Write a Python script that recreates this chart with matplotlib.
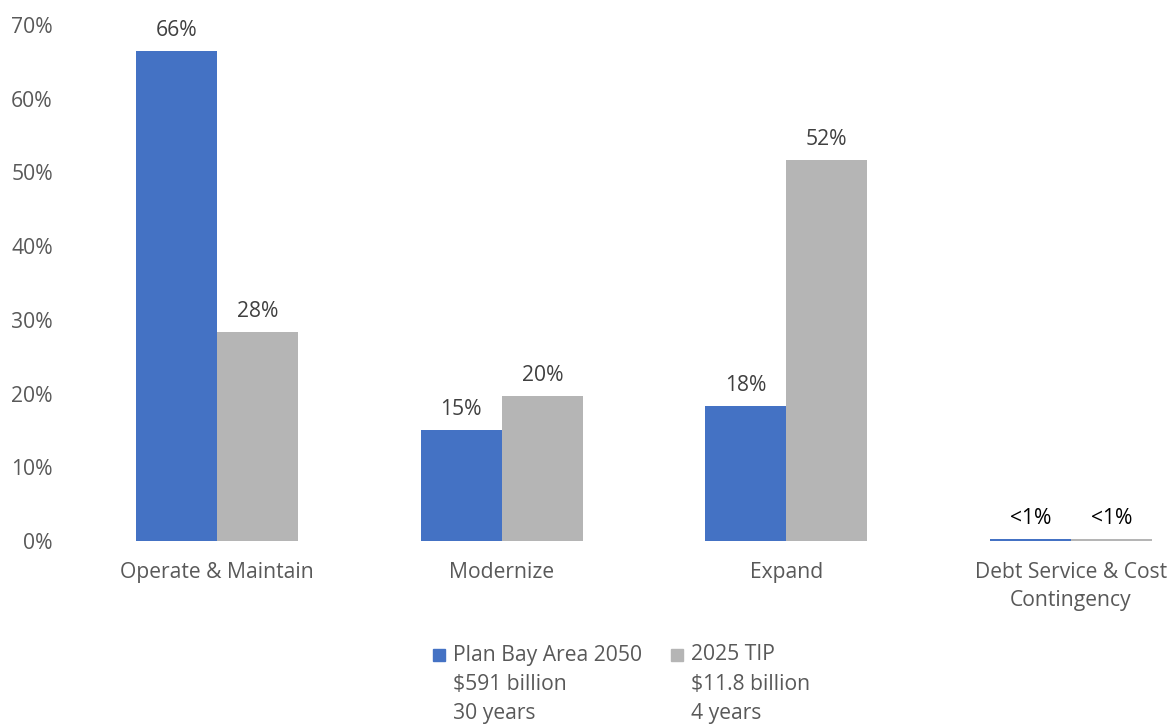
import numpy as np
import matplotlib.pyplot as plt
from matplotlib.patches import Rectangle

# ================== DATA ==================

categories = ["Operate & Maintain", "Modernize", "Expand", "Debt Service & Cost\nContingency"]
plan_values = [66.5, 15.1, 18.3, 0.3]
tip_values = [28.4, 19.7, 51.7, 0.3]
plan_labels = ["66%", "15%", "18%", "<1%"]
tip_labels = ["28%", "20%", "52%", "<1%"]
y_ticks = [0, 10, 20, 30, 40, 50, 60, 70]

legend_plan = ["Plan Bay Area 2050", "\\$591 billion", "30 years"]
legend_tip = ["2025 TIP", "\\$11.8 billion", "4 years"]

BLUE = "#4472C4"
GRAY = "#B5B5B5"
TICK_COLOR = "#595959"
LABEL_COLOR = "#404040"
FS = 15.2

plt.rcParams["font.family"] = ["Open Sans", "DejaVu Sans"]

# ================== PLOT ==================

fig = plt.figure(figsize=(11.68, 7.24), dpi=100)
ax = fig.add_axes([75 / 1168, 1 - 541 / 724, 1138 / 1168, 516 / 724])

x = np.arange(len(categories))
w = 0.285

bars1 = ax.bar(x - w / 2, plan_values, w, color=BLUE, linewidth=0)
bars2 = ax.bar(x + w / 2, tip_values, w, color=GRAY, linewidth=0)

for bars, labels in ((bars1, plan_labels), (bars2, tip_labels)):
    for b, lab in zip(bars, labels):
        col = "black" if lab.startswith("<") else LABEL_COLOR
        ax.annotate(lab, (b.get_x() + b.get_width() / 2, b.get_height()),
                    xytext=(0, 7), textcoords="offset points",
                    ha="center", va="bottom", fontsize=FS, color=col)

ax.set_xlim(-0.5, len(categories) - 0.5)
ax.set_ylim(0, 70)
ax.set_yticks(y_ticks)
ax.set_yticklabels([f"{t}%" for t in y_ticks])
ax.set_xticks(x)
ax.set_xticklabels(categories, linespacing=1.45)
ax.tick_params(axis="y", length=0, pad=16, labelsize=FS, labelcolor=TICK_COLOR)
ax.tick_params(axis="x", length=0, pad=15, labelsize=FS, labelcolor=TICK_COLOR)
for s in ax.spines.values():
    s.set_visible(False)

# legend below the chart
sq = 12 / 1168
for x0, color, lines in ((433, BLUE, legend_plan), (671, GRAY, legend_tip)):
    fig.patches.append(Rectangle((x0 / 1168, 1 - 661 / 724), sq, sq * 1168 / 724,
                                 transform=fig.transFigure, color=color))
    for i, line in enumerate(lines):
        fig.text((x0 + 20) / 1168, 1 - (655 + 29 * i) / 724, line,
                 ha="left", va="center", fontsize=FS, color=TICK_COLOR)

fig.savefig("out.png", dpi=100)
